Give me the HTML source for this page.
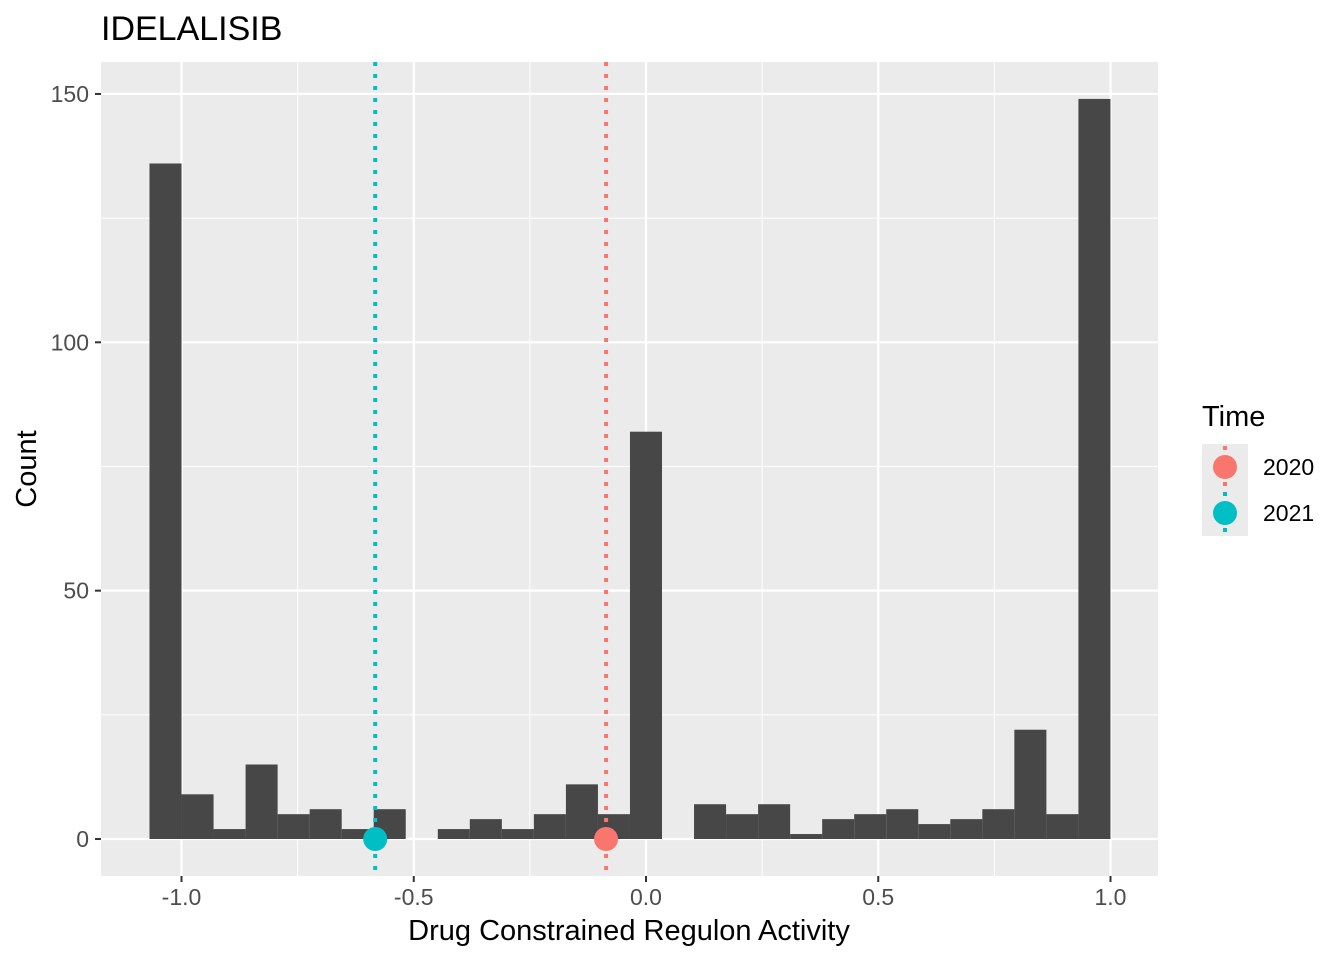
<!DOCTYPE html>
<html><head><meta charset="utf-8"><style>body{margin:0;background:#fff}svg{display:block;font-family:"Liberation Sans",Arial,sans-serif}</style></head>
<body>
<svg id="chart" width="1344" height="960">
<text x="101" y="40" font-size="34" fill="#000">IDELALISIB</text>
<rect x="101" y="62" width="1057" height="814" fill="#ebebeb"/>
<g id="grid"></g>
<g id="bars"></g>
<g id="lines"></g>
<g id="axes"></g>
<text x="629" y="940" font-size="29" text-anchor="middle">Drug Constrained Regulon Activity</text>
<text transform="translate(36,469) rotate(-90)" font-size="29" text-anchor="middle">Count</text>
<g>
<text x="1202" y="426" font-size="29">Time</text>
<rect x="1202" y="444" width="46" height="92" fill="#ebebeb"/>
<line x1="1225" y1="446" x2="1225" y2="488" stroke="#F8766D" stroke-width="4" stroke-dasharray="4,8"/>
<circle cx="1225" cy="467" r="12" fill="#F8766D"/>
<line x1="1225" y1="492" x2="1225" y2="534" stroke="#00BFC4" stroke-width="4" stroke-dasharray="4,8"/>
<circle cx="1225" cy="513" r="12" fill="#00BFC4"/>
<text x="1263" y="475" font-size="23">2020</text>
<text x="1263" y="521" font-size="23">2021</text>
</g>
</svg>
<script>
const counts=[136,9,2,15,5,6,2,6,0,2,4,2,5,11,5,82,0,7,5,7,1,4,5,6,3,4,6,22,5,149];
const binStart=-1.0689;
const binWidth=0.06896;
const vlineValues=[-0.086,-0.583];
const vlineColors=['#F8766D','#00BFC4'];
const vlineNames=['2020','2021'];
const xTicks=[-1.0,-0.5,0.0,0.5,1.0];
const xTickLabels=['-1.0','-0.5','0.0','0.5','1.0'];
const xMinor=[-0.75,-0.25,0.25,0.75];
const yTicks=[0,50,100,150];
const yMinor=[25,75,125];
const NS='http://www.w3.org/2000/svg';
const X=v=>646+v*464.5;
const Y=v=>839-v*4.967;
function mk(t,a,p){const e=document.createElementNS(NS,t);for(const k in a)e.setAttribute(k,a[k]);p.appendChild(e);return e;}
const grid=document.getElementById('grid'),bars=document.getElementById('bars'),lines=document.getElementById('lines'),axes=document.getElementById('axes');
xMinor.forEach(v=>{const l=mk('line',{x1:X(v),x2:X(v),y1:62,y2:876,stroke:'#fff','stroke-width':1},grid);

});
yMinor.forEach(v=>{const l=mk('line',{x1:101,x2:1158,y1:Y(v),y2:Y(v),stroke:'#fff','stroke-width':1},grid);

});
xTicks.forEach((v,i)=>{const l=mk('line',{x1:X(v),x2:X(v),y1:62,y2:876,stroke:'#fff','stroke-width':2.2},grid);


const t=mk('line',{x1:X(v),x2:X(v),y1:876,y2:882,stroke:'#333','stroke-width':2},axes);


const tx=mk('text',{x:X(v),y:905,'font-size':23,'text-anchor':'middle',fill:'#4d4d4d'},axes);tx.textContent=xTickLabels[i];

});
yTicks.forEach(v=>{const l=mk('line',{x1:101,x2:1158,y1:Y(v),y2:Y(v),stroke:'#fff','stroke-width':2.2},grid);


const t=mk('line',{x1:95,x2:101,y1:Y(v),y2:Y(v),stroke:'#333','stroke-width':2},axes);


const tx=mk('text',{x:89,y:Y(v)+8,'font-size':23,'text-anchor':'end',fill:'#4d4d4d'},axes);tx.textContent=v;

});
counts.forEach((c,i)=>{const x0=X(binStart+i*binWidth),x1=X(binStart+(i+1)*binWidth);
const r=mk('rect',{x:x0,y:Y(c),width:x1-x0,height:Y(0)-Y(c),fill:'#474747'},bars);

});
vlineValues.forEach((v,i)=>{const l=mk('line',{x1:X(v),x2:X(v),y1:62,y2:876,stroke:vlineColors[i],'stroke-width':4,'stroke-dasharray':'4,8'},lines);


const c=mk('circle',{cx:X(v),cy:Y(0),r:12,fill:vlineColors[i]},lines);

});
</script>
</body></html>
